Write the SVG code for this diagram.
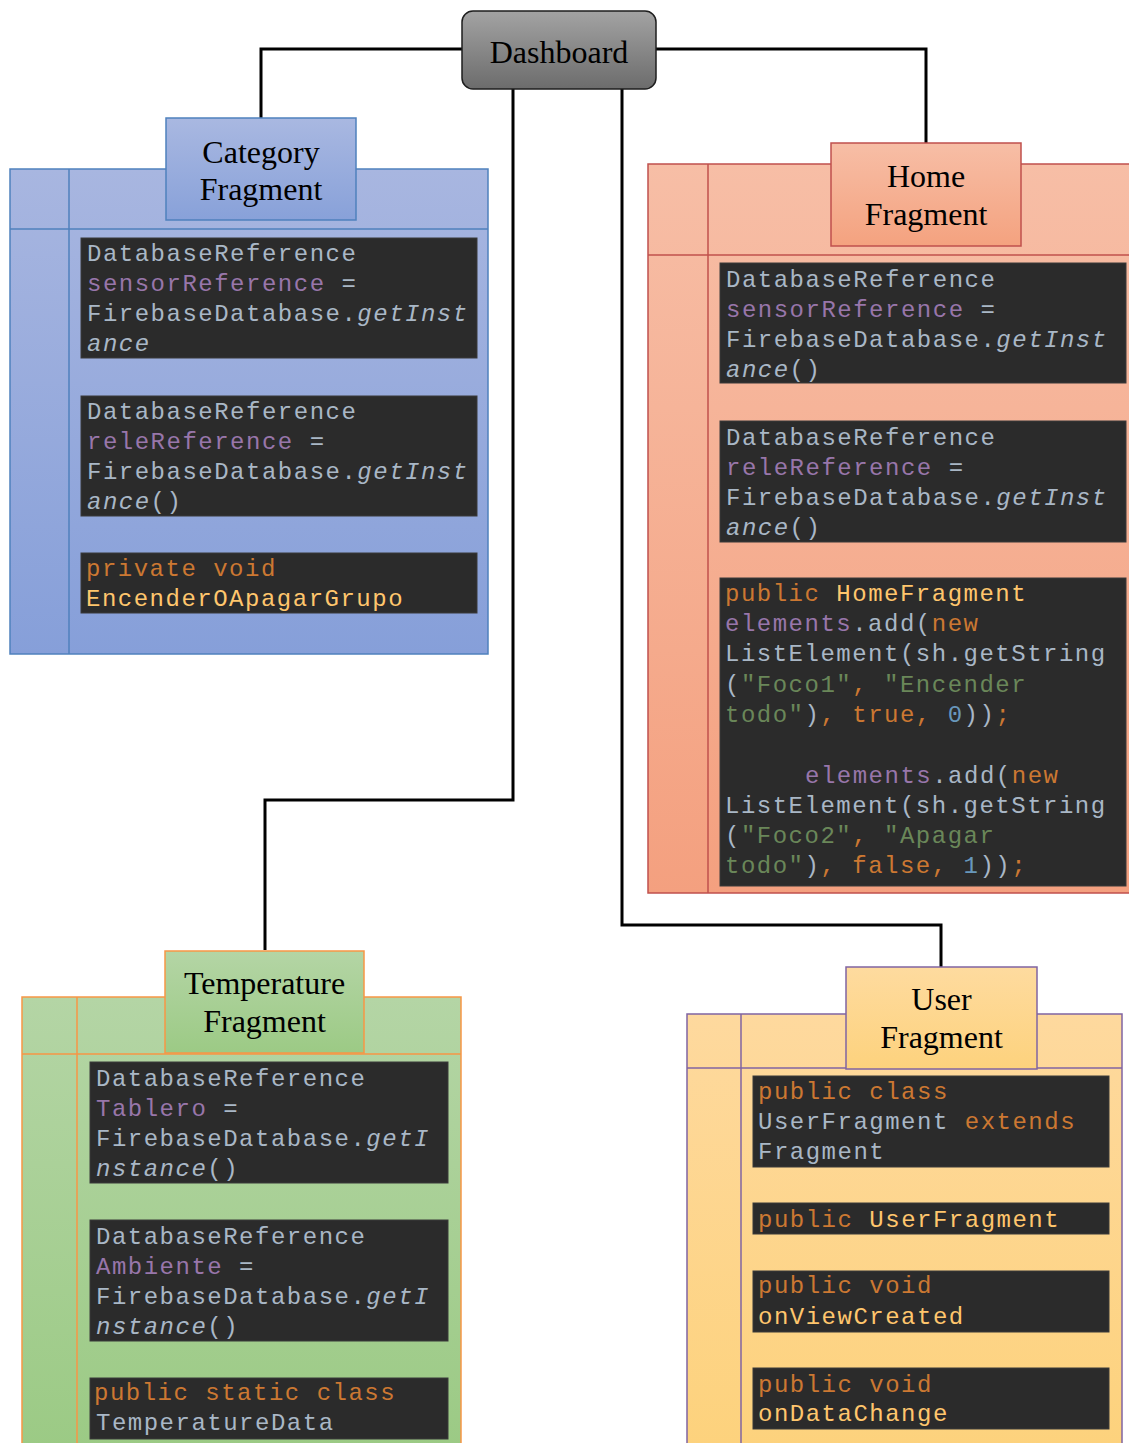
<svg xmlns="http://www.w3.org/2000/svg" width="1129" height="1443" viewBox="0 0 1129 1443">
<defs>
<linearGradient id="gDash" x1="0" y1="0" x2="0" y2="1"><stop offset="0" stop-color="#a3a3a3"/><stop offset="1" stop-color="#6c6c6c"/></linearGradient>
<linearGradient id="gBlue" x1="0" y1="0" x2="0" y2="1"><stop offset="0" stop-color="#a8b6e0"/><stop offset="1" stop-color="#869fd9"/></linearGradient>
<linearGradient id="gBlueH" x1="0" y1="0" x2="0" y2="1"><stop offset="0" stop-color="#a9b8e1"/><stop offset="1" stop-color="#88a1d9"/></linearGradient>
<linearGradient id="gRed" x1="0" y1="0" x2="0" y2="1"><stop offset="0" stop-color="#f7bea6"/><stop offset="1" stop-color="#f4a07f"/></linearGradient>
<linearGradient id="gRedH" x1="0" y1="0" x2="0" y2="1"><stop offset="0" stop-color="#f7bea6"/><stop offset="1" stop-color="#f4a27f"/></linearGradient>
<linearGradient id="gGreen" x1="0" y1="0" x2="0" y2="1"><stop offset="0" stop-color="#b4d5a5"/><stop offset="1" stop-color="#9bca84"/></linearGradient>
<linearGradient id="gGreenH" x1="0" y1="0" x2="0" y2="1"><stop offset="0" stop-color="#b4d5a5"/><stop offset="1" stop-color="#9cca85"/></linearGradient>
<linearGradient id="gYellow" x1="0" y1="0" x2="0" y2="1"><stop offset="0" stop-color="#fed99e"/><stop offset="1" stop-color="#fdd27c"/></linearGradient>
<linearGradient id="gYellowH" x1="0" y1="0" x2="0" y2="1"><stop offset="0" stop-color="#fedb9f"/><stop offset="1" stop-color="#fdd27d"/></linearGradient>
</defs>
<style>
.title{font-family:"Liberation Serif","Times New Roman",serif;font-size:32px;fill:#000;text-anchor:middle}
.code{font-family:"Liberation Mono","Courier New",monospace;font-size:24px;letter-spacing:1.5px;fill:#a9b7c6}
.blk{fill:#2b2b2b;stroke:#3a3a3a;stroke-width:1}
.p{fill:#9876aa}.o{fill:#cc7832}.y{fill:#ffc66d}.g{fill:#6a8759}.n{fill:#6897bb}.i{font-style:italic}
.conn{fill:none;stroke:#000;stroke-width:3}
.lnB{stroke:#4f81bd;stroke-width:1.5}
.lnR{stroke:#c0504d;stroke-width:1.5}
.lnG{stroke:#f79646;stroke-width:1.5}
.lnP{stroke:#8064a2;stroke-width:1.5}
</style>

<g id="connectors">
<polyline class="conn" points="462,49 261,49 261,118"/>
<polyline class="conn" points="656,49 926,49 926,143"/>
<polyline class="conn" points="513,89 513,800 265,800 265,950"/>
<polyline class="conn" points="622,89 622,925 941,925 941,967"/>
</g>

<g id="dashboard">
<rect x="462" y="11" width="194" height="78" rx="11" fill="url(#gDash)" stroke="#1e1e1e" stroke-width="1.5"/>
<text class="title" x="559" y="63">Dashboard</text>
</g>

<g id="category-fragment">
<rect x="10" y="169" width="478" height="485" fill="url(#gBlue)" class="lnB"/>
<line class="lnB" x1="69" y1="169" x2="69" y2="654"/>
<line class="lnB" x1="10" y1="229" x2="488" y2="229"/>
<rect x="166" y="118" width="190" height="102" fill="url(#gBlueH)" class="lnB"/>
<text class="title" x="261" y="163">Category</text>
<text class="title" x="261" y="200">Fragment</text>
<rect class="blk" x="81" y="238" width="396" height="120"/>
<text class="code" x="87" y="261">DatabaseReference</text>
<text class="code" x="87" y="291"><tspan class="p">sensorReference</tspan> =</text>
<text class="code" x="87" y="321">FirebaseDatabase.<tspan class="i">getInst</tspan></text>
<text class="code" x="87" y="351"><tspan class="i">ance</tspan></text>
<rect class="blk" x="81" y="396" width="396" height="120"/>
<text class="code" x="87" y="419">DatabaseReference</text>
<text class="code" x="87" y="449"><tspan class="p">releReference</tspan> =</text>
<text class="code" x="87" y="479">FirebaseDatabase.<tspan class="i">getInst</tspan></text>
<text class="code" x="87" y="509"><tspan class="i">ance</tspan>()</text>
<rect class="blk" x="81" y="553" width="396" height="60"/>
<text class="code" x="86" y="576"><tspan class="o">private void</tspan></text>
<text class="code" x="86" y="606"><tspan class="y">EncenderOApagarGrupo</tspan></text>
</g>

<g id="home-fragment">
<rect x="648" y="164" width="490" height="729" fill="url(#gRed)" class="lnR"/>
<line class="lnR" x1="708" y1="164" x2="708" y2="893"/>
<line class="lnR" x1="648" y1="255" x2="1138" y2="255"/>
<rect x="831" y="143" width="190" height="103" fill="url(#gRedH)" class="lnR"/>
<text class="title" x="926" y="187">Home</text>
<text class="title" x="926" y="225">Fragment</text>
<rect class="blk" x="720" y="263" width="406" height="120"/>
<text class="code" x="726" y="287">DatabaseReference</text>
<text class="code" x="726" y="317"><tspan class="p">sensorReference</tspan> =</text>
<text class="code" x="726" y="347">FirebaseDatabase.<tspan class="i">getInst</tspan></text>
<text class="code" x="726" y="377"><tspan class="i">ance</tspan>()</text>
<rect class="blk" x="720" y="421" width="406" height="121"/>
<text class="code" x="726" y="445">DatabaseReference</text>
<text class="code" x="726" y="475"><tspan class="p">releReference</tspan> =</text>
<text class="code" x="726" y="505">FirebaseDatabase.<tspan class="i">getInst</tspan></text>
<text class="code" x="726" y="535"><tspan class="i">ance</tspan>()</text>
<rect class="blk" x="720" y="578" width="406" height="308"/>
<text class="code" x="725" y="601"><tspan class="o">public</tspan> <tspan class="y">HomeFragment</tspan></text>
<text class="code" x="725" y="631"><tspan class="p">elements</tspan>.add(<tspan class="o">new</tspan></text>
<text class="code" x="725" y="661">ListElement(sh.getString</text>
<text class="code" x="725" y="692">(<tspan class="g">"Foco1"</tspan><tspan class="o">,</tspan> <tspan class="g">"Encender</tspan></text>
<text class="code" x="725" y="722"><tspan class="g">todo"</tspan>)<tspan class="o">,</tspan> <tspan class="o">true,</tspan> <tspan class="n">0</tspan>))<tspan class="o">;</tspan></text>
<text class="code" x="805" y="783"><tspan class="p">elements</tspan>.add(<tspan class="o">new</tspan></text>
<text class="code" x="725" y="813">ListElement(sh.getString</text>
<text class="code" x="725" y="843">(<tspan class="g">"Foco2"</tspan><tspan class="o">,</tspan> <tspan class="g">"Apagar</tspan></text>
<text class="code" x="725" y="873"><tspan class="g">todo"</tspan>)<tspan class="o">,</tspan> <tspan class="o">false,</tspan> <tspan class="n">1</tspan>))<tspan class="o">;</tspan></text>
</g>

<g id="temperature-fragment">
<rect x="22" y="997" width="439" height="460" fill="url(#gGreen)" class="lnG"/>
<line class="lnG" x1="77" y1="997" x2="77" y2="1457"/>
<line class="lnG" x1="22" y1="1054" x2="461" y2="1054"/>
<rect x="165" y="951" width="199" height="102" fill="url(#gGreenH)" class="lnG"/>
<text class="title" x="264.5" y="994">Temperature</text>
<text class="title" x="264.5" y="1032">Fragment</text>
<rect class="blk" x="90" y="1062" width="358" height="121"/>
<text class="code" x="96" y="1086">DatabaseReference</text>
<text class="code" x="96" y="1116"><tspan class="p">Tablero</tspan> =</text>
<text class="code" x="96" y="1146">FirebaseDatabase.<tspan class="i">getI</tspan></text>
<text class="code" x="96" y="1176"><tspan class="i">nstance</tspan>()</text>
<rect class="blk" x="90" y="1220" width="358" height="121"/>
<text class="code" x="96" y="1244">DatabaseReference</text>
<text class="code" x="96" y="1274"><tspan class="p">Ambiente</tspan> =</text>
<text class="code" x="96" y="1304">FirebaseDatabase.<tspan class="i">getI</tspan></text>
<text class="code" x="96" y="1334"><tspan class="i">nstance</tspan>()</text>
<rect class="blk" x="90" y="1378" width="358" height="61"/>
<text class="code" x="94" y="1400"><tspan class="o">public static class</tspan></text>
<text class="code" x="96" y="1430">TemperatureData</text>
</g>

<g id="user-fragment">
<rect x="687" y="1014" width="435" height="440" fill="url(#gYellow)" class="lnP"/>
<line class="lnP" x1="741" y1="1014" x2="741" y2="1454"/>
<line class="lnP" x1="687" y1="1068" x2="1122" y2="1068"/>
<rect x="846" y="967" width="191" height="102" fill="url(#gYellowH)" class="lnP"/>
<text class="title" x="941.5" y="1010">User</text>
<text class="title" x="941.5" y="1048">Fragment</text>
<rect class="blk" x="753" y="1076" width="356" height="91"/>
<text class="code" x="758" y="1099"><tspan class="o">public class</tspan></text>
<text class="code" x="758" y="1129">UserFragment <tspan class="o">extends</tspan></text>
<text class="code" x="758" y="1159">Fragment</text>
<rect class="blk" x="753" y="1203" width="356" height="31"/>
<text class="code" x="758" y="1227"><tspan class="o">public</tspan> <tspan class="y">UserFragment</tspan></text>
<rect class="blk" x="753" y="1271" width="356" height="61"/>
<text class="code" x="758" y="1293"><tspan class="o">public void</tspan></text>
<text class="code" x="758" y="1324"><tspan class="y">onViewCreated</tspan></text>
<rect class="blk" x="753" y="1368" width="356" height="61"/>
<text class="code" x="758" y="1392"><tspan class="o">public void</tspan></text>
<text class="code" x="758" y="1421"><tspan class="y">onDataChange</tspan></text>
</g>
</svg>
